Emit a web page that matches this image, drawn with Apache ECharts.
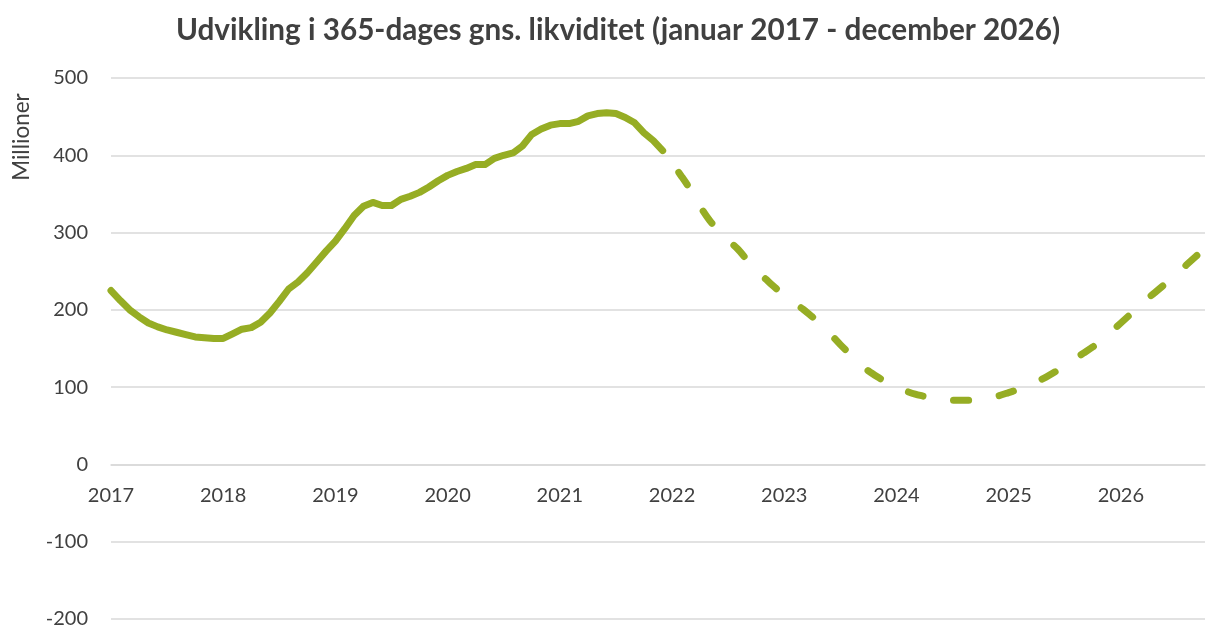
<!DOCTYPE html>
<html>
<head>
<meta charset="utf-8">
<title>Likviditet</title>
<script src="https://cdn.jsdelivr.net/npm/echarts@6/dist/echarts.min.js"></script>
<style>
html,body{margin:0;padding:0;background:#fff;}
#chart{width:1217px;height:627px;}
</style>
</head>
<body>
<div id="chart"></div>
<script>
// startmåned for serien (januar 2017), én værdi pr. måned
var startYear = 2017;
// faktisk 365-dages gns. likviditet, jan 2017 - dec 2021 (mio.)
var historik = [
	225,212,200,191,183,178,174,171,168,165,164,163,
	163,169,175,177,184,196,211,227,236,248,262,276,
	289,305,322,334,339,335,335,343,347,352,359,367,
	374,379,383,388,388,396,400,403,412,427,434,439,
	441,441,444,451,454,455,454,449,442,429,419,406
];
// prognose, dec 2021 - okt 2026 (mio.)
var prognose = [
	406,
	390,373,355,334,316,302,290,279,265,251,240,229,
	219,209,201,191,181,168,155,143,131,121,113,106,
	100,95,91,88,85,84,83,83,83,84,86,89,
	93,97,102,107,113,120,128,136,144,152,161,172,
	183,194,205,216,226,236,246,258,269,279
];
var years = [2017,2018,2019,2020,2021,2022,2023,2024,2025,2026];
var yMin = -200, yMax = 500;

var histData = historik.map(function(v, i){
	return [startYear + i / 12, v];
});
var progStart = historik.length - 1;
var progData = prognose.map(function(v, i){
	return [startYear + (progStart + i) / 12, v];
});
var lastX = progData[progData.length - 1][0];

var green = "#96AD24";
var txt = "#404040";
var font = "Lato";

// plotområde
var gTop = 78, gBottom = 8;
var plotH = 627 - gTop - gBottom;
// x-aksen skal ligge ved 0, ikke i bunden
var zeroOffset = -plotH * (0 - yMin) / (yMax - yMin);

var myChart = echarts.init(document.getElementById("chart"));
var option = {
	animation:false,
	title:{
		text:"Udvikling i 365-dages gns. likviditet (januar 2017 - december 2026)",
		left:613,
		top:10,
		textAlign:"center",
		textStyle:{fontFamily:font,fontSize:29.7,fontWeight:"bold",color:txt}
	},
	graphic:[{
		type:"text",
		x:22,
		y:137,
		rotation:Math.PI/2,
		style:{text:"Millioner",fontFamily:font,fontSize:22.5,fill:txt,align:"center",verticalAlign:"middle"}
	}],
	grid:{left:111,right:12,top:gTop,bottom:gBottom,outerBoundsMode:"none",containLabel:false},
	xAxis:{
		type:"value",
		min:startYear,
		max:lastX,
		interval:1,
		position:"bottom",
		offset:zeroOffset,
		axisLine:{onZero:false,lineStyle:{color:"#d9d9d9",width:1.5}},
		axisTick:{show:false},
		splitLine:{show:false},
		axisLabel:{
			margin:21,
			showMaxLabel:false,
			fontFamily:font,fontSize:20,color:txt,
			formatter:function(v){
				return years.indexOf(Math.round(v)) >= 0 && Math.abs(v - Math.round(v)) < 1e-6 ? String(Math.round(v)) : "";
			}
		}
	},
	yAxis:{
		type:"value",
		min:yMin,
		max:yMax,
		interval:100,
		axisLine:{show:false},
		axisTick:{show:false},
		splitLine:{lineStyle:{color:"#d9d9d9",width:1.5}},
		axisLabel:{margin:23,fontFamily:font,fontSize:20,color:txt}
	},
	series:[{
		name:"Historik",
		type:"line",
		data:histData,
		showSymbol:false,
		lineStyle:{color:green,width:7,cap:"round",join:"round"}
	},{
		name:"Prognose",
		type:"line",
		data:progData,
		showSymbol:false,
		smooth:0.3,
		lineStyle:{color:green,width:7,type:[15,31],dashOffset:19,cap:"round",join:"round"}
	}]
};
myChart.setOption(option);
</script>
</body>
</html>
